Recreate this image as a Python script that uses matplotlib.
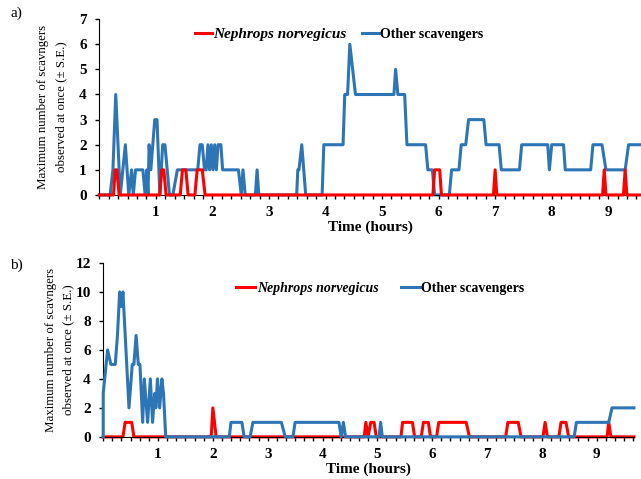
import matplotlib
matplotlib.use("Agg")
import matplotlib.pyplot as plt
from matplotlib.ticker import MultipleLocator, FixedLocator

plt.rcParams['font.family'] = ['Liberation Serif', 'DejaVu Serif']

# ---------------- data: panel a ----------------
ta_other = [0, 0.19, 0.24, 0.29, 0.37, 0.46, 0.52, 0.57, 0.60, 0.64, 0.77, 0.81, 0.84, 0.86, 0.88, 0.91,
            0.98, 1.02, 1.07, 1.12, 1.16, 1.24, 1.30, 1.38, 1.74, 1.78, 1.82, 1.86, 1.89, 1.92, 1.95,
            1.98, 2.01, 2.04, 2.07, 2.10, 2.15, 2.18, 2.46, 2.51, 2.54, 2.58, 2.76, 2.79, 2.82,
            3.49, 3.51, 3.53, 3.58, 3.65, 3.94, 3.97, 4.31, 4.34, 4.39, 4.43, 4.53, 5.21, 5.24, 5.28,
            5.40, 5.44, 5.77, 5.81, 5.89, 5.93, 6.19, 6.23, 6.36, 6.40, 6.48, 6.53, 6.80, 6.84, 7.07,
            7.11, 7.43, 7.47, 7.93, 7.96, 8.00, 8.21, 8.24, 8.69, 8.73, 8.89, 8.96, 9.30, 9.36, 9.60]
va_other = [0, 0, 1, 4, 0, 2, 0, 1, 0, 1, 1, 0, 1, 0, 2, 1,
            3, 3, 0, 2, 2, 0, 0, 1, 1, 2, 2, 1, 1, 2, 1,
            2, 1, 2, 1, 2, 2, 1, 1, 0, 1, 0, 0, 1, 0,
            0, 1, 1, 2, 0, 0, 2, 2, 4, 4, 6, 4, 4, 5, 4,
            4, 2, 2, 1, 1, 0, 0, 1, 1, 2, 2, 3, 3, 2, 2,
            1, 1, 2, 2, 1, 2, 2, 1, 1, 2, 2, 1, 1, 2, 2]

ta_neph = [0, 0.25, 0.28, 0.31, 0.35, 1.07, 1.10, 1.14, 1.18, 1.43, 1.47, 1.53, 1.57, 1.69, 1.73,
           1.82, 1.87, 5.90, 5.93, 6.02, 6.05, 6.97, 7.00, 7.03, 8.90, 8.93, 8.96, 9.27, 9.30, 9.33, 9.60]
va_neph = [0, 0, 1, 1, 0, 0, 1, 1, 0, 0, 1, 1, 0, 0, 1,
           1, 0, 0, 1, 1, 0, 0, 1, 0, 0, 1, 0, 0, 1, 0, 0]

# ---------------- data: panel b ----------------
tb_other = [0, 0, 0.08, 0.14, 0.22, 0.26, 0.30, 0.33, 0.36, 0.47, 0.53, 0.56, 0.60, 0.64, 0.67,
            0.72, 0.75, 0.81, 0.86, 0.90, 0.94, 0.96, 0.99, 1.03, 1.07, 1.10, 1.14, 2.30, 2.33,
            2.53, 2.57, 2.68, 2.73, 3.25, 3.32, 3.46, 3.50, 4.30, 4.34, 4.38, 4.42, 5.03, 5.06,
            5.09, 8.59, 8.63, 9.22, 9.28, 9.68]
vb_other = [0, 3, 6, 5, 5, 7, 10, 9, 10, 2, 5, 5, 7, 5, 5,
            1, 4, 1, 4, 1, 3, 2, 4, 2, 4, 3, 0, 0, 1,
            1, 0, 0, 1, 1, 0, 0, 1, 1, 0, 1, 0, 0, 1,
            0, 0, 1, 1, 2, 2]

tb_neph = [0, 0.36, 0.40, 0.52, 0.56, 1.97, 2.00, 2.06, 4.76, 4.79, 4.83, 4.88, 4.94, 4.98,
           5.43, 5.46, 5.64, 5.68, 5.80, 5.84, 5.93, 5.97, 6.08, 6.12, 6.62, 6.68, 7.34, 7.38,
           7.57, 7.62, 8.02, 8.06, 8.10, 8.31, 8.35, 8.44, 8.49, 9.19, 9.22, 9.26, 9.68]
vb_neph = [0, 0, 1, 1, 0, 0, 2, 0, 0, 1, 0, 1, 1, 0,
           0, 1, 1, 0, 0, 1, 1, 0, 0, 1, 1, 0, 0, 1,
           1, 0, 0, 1, 0, 0, 1, 1, 0, 0, 1, 0, 0]

x_labels = ['1', '2', '3', '4', '5', '6', '7', '8', '9']

RED = '#FF0000'
BLUE = '#2E75B6'
LW = 2.2

fig = plt.figure(figsize=(6.41, 4.79), dpi=100)
ax1 = fig.add_axes([0.155, 0.593, 0.845, 0.367])
ax2 = fig.add_axes([0.161, 0.088, 0.828, 0.363])


def style(ax, xmax, ymax, ystep):
    ax.set_xlim(0, xmax)
    ax.set_ylim(0, ymax)
    ax.spines['top'].set_visible(False)
    ax.spines['right'].set_visible(False)
    ax.xaxis.set_major_locator(FixedLocator(list(range(1, 10))))
    ax.set_xticklabels(x_labels)
    ax.xaxis.set_minor_locator(MultipleLocator(1 / 6))
    ax.yaxis.set_major_locator(MultipleLocator(ystep))
    ax.tick_params(axis='both', which='both', direction='out', length=3, width=1,
                   labelsize=11)
    ax.tick_params(axis='x', pad=5)
    ax.tick_params(axis='y', pad=6)
    for lab in ax.get_xticklabels() + ax.get_yticklabels():
        lab.set_fontweight('bold')
    ax.set_xlabel('Time (hours)', fontsize=11, fontweight='bold', labelpad=1)
    ax.set_ylabel('Maximum number of scavngers\nobserved at once (\u00b1 S.E.)', fontsize=9.3,
                  linespacing=1.6)


# panel a: red drawn on top
l1, = ax1.plot(ta_neph, va_neph, color=RED, lw=LW, zorder=3, label='Nephrops norvegicus', clip_on=False)
l2, = ax1.plot(ta_other, va_other, color=BLUE, lw=LW, zorder=2, label='Other scavengers', clip_on=False)
style(ax1, 9.58, 7, 1)
leg1 = ax1.legend(handles=[l1, l2], loc='center', bbox_to_anchor=(0.443, 0.915), ncol=2,
                  frameon=False, handlelength=1.2, handletextpad=0.1, columnspacing=1.1,
                  prop={'weight': 'bold', 'size': 10})
leg1.get_texts()[0].set_fontstyle('italic')
leg1.get_texts()[0].set_fontsize(11)

# panel b: blue drawn on top
m1, = ax2.plot(tb_neph, vb_neph, color=RED, lw=LW, zorder=2, label='Nephrops norvegicus', clip_on=False)
m2, = ax2.plot(tb_other, vb_other, color=BLUE, lw=LW, zorder=3, label='Other scavengers', clip_on=False)
style(ax2, 9.68, 12, 2)
leg2 = ax2.legend(handles=[m1, m2], loc='center', bbox_to_anchor=(0.522, 0.856), ncol=2,
                  frameon=False, handlelength=1.4, handletextpad=0.1, columnspacing=1.6,
                  prop={'weight': 'bold', 'size': 10})
leg2.get_texts()[0].set_fontstyle('italic')

ax1.yaxis.set_label_coords(-0.060, 0.5)
ax2.yaxis.set_label_coords(-0.055, 0.5)

fig.text(0.016, 0.972, 'a)', fontsize=11, va='center', ha='left')
fig.text(0.016, 0.447, 'b)', fontsize=11, va='center', ha='left')

fig.savefig('out.png', dpi=100)
